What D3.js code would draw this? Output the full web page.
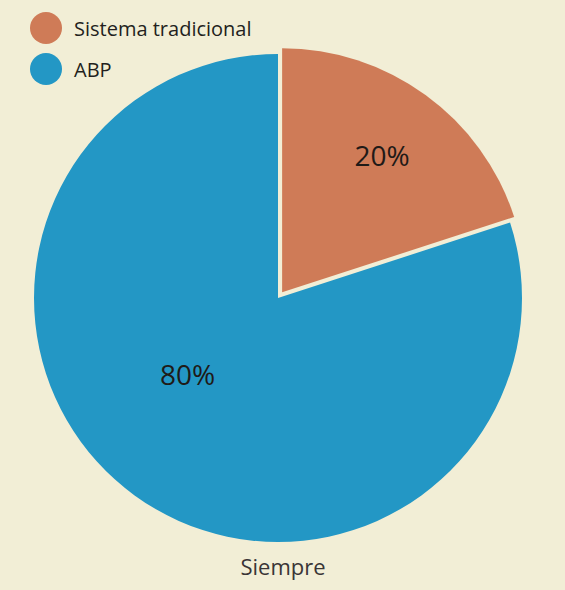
<!DOCTYPE html>
<html>
<head>
<meta charset="utf-8">
<script src="https://cdn.jsdelivr.net/npm/d3@7"></script>
<style>
  html, body { margin: 0; padding: 0; background: #f2eed6; }
  svg { display: block; font-family: "Open Sans", "Noto Sans", sans-serif; }
</style>
</head>
<body>
<div id="chart"></div>
<script>
// datos del gráfico
const categories = ['Sistema tradicional', 'ABP'];
const values = [20, 80];
const colors = ['#cf7b57', '#2397c5'];
const groupLabel = 'Siempre';

const width = 565, height = 590;
const cx = 278, cy = 298, radius = 244;
const explode = [7, 0];          // desplazamiento de cada sector
const labelRadius = [170, 118];
const labelTurn = [0, 14];       // ajuste angular de la etiqueta (grados)

const svg = d3.select('#chart')
  .append('svg')
  .attr('width', width)
  .attr('height', height);

svg.append('rect')
  .attr('width', width)
  .attr('height', height)
  .attr('fill', '#f2eed6');

const pie = d3.pie().sort(null).value(d => d);
const arcs = pie(values);
const arc = d3.arc().innerRadius(0).outerRadius(radius);

const g = svg.append('g').attr('transform', `translate(${cx},${cy})`);

const slices = g.selectAll('g.slice')
  .data(arcs)
  .enter()
  .append('g')
  .attr('class', 'slice')
  .attr('transform', (d, i) => {
    const mid = (d.startAngle + d.endAngle) / 2;
    const [x, y] = d3.pointRadial(mid, explode[i]);
    return `translate(${x},${y})`;
  });

slices.append('path')
  .attr('d', arc)
  .attr('fill', (d, i) => colors[i]);

slices.append('text')
  .attr('transform', (d, i) => {
    const mid = (d.startAngle + d.endAngle) / 2 + labelTurn[i] * Math.PI / 180;
    const [x, y] = d3.pointRadial(mid, labelRadius[i]);
    return `translate(${x},${y})`;
  })
  .attr('text-anchor', 'middle')
  .attr('dominant-baseline', 'central')
  .attr('font-size', 28)
  .attr('fill', '#1f1a17')
  .text(d => `${d.data}%`);

// leyenda
const legend = svg.append('g').attr('class', 'legend');
const items = legend.selectAll('g')
  .data(categories)
  .enter()
  .append('g')
  .attr('transform', (d, i) => `translate(46,${28 + i * 41})`);

items.append('circle')
  .attr('r', 16)
  .attr('fill', (d, i) => colors[i]);

items.append('text')
  .attr('x', 28)
  .attr('dominant-baseline', 'central')
  .attr('font-size', 20)
  .attr('fill', '#231f20')
  .text(d => d);

svg.append('text')
  .attr('x', cx + 5)
  .attr('y', 566)
  .attr('text-anchor', 'middle')
  .attr('dominant-baseline', 'central')
  .attr('font-size', 22)
  .attr('fill', '#3a3536')
  .text(groupLabel);
</script>
</body>
</html>
